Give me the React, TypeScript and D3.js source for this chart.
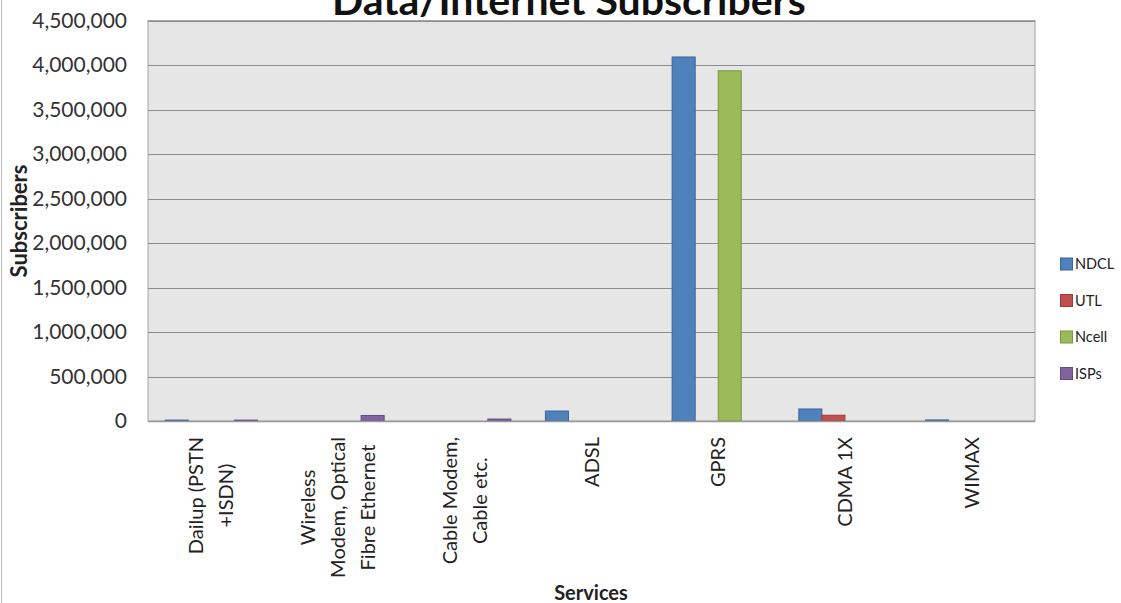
import { useEffect, useRef } from "react";
import * as d3 from "d3";

const categories = [
  ["Dailup (PSTN", "+ISDN)"],
  ["Wireless", "Modem, Optical", "Fibre Ethernet"],
  ["Cable Modem,", "Cable etc."],
  ["ADSL"],
  ["GPRS"],
  ["CDMA 1X"],
  ["WIMAX"],
];
const seriesNames = ["NDCL", "UTL", "Ncell", "ISPs"];
const ndcl = [10000, 0, 0, 112000, 4090000, 135000, 12000];
const utl = [0, 0, 0, 0, 0, 65000, 0];
const ncell = [0, 0, 0, 0, 3935000, 0, 0];
const isps = [10000, 62000, 22000, 0, 0, 0, 0];
const yTicks = [0, 500000, 1000000, 1500000, 2000000, 2500000, 3000000, 3500000, 4000000, 4500000];

const colors = ["#4f81bd", "#c0504d", "#9bbb59", "#8064a2"];
const strokes = ["#3a6597", "#9c3b39", "#7b9645", "#624c80"];

const App = () => {
  const ref = useRef<SVGSVGElement>(null);

  useEffect(() => {
    const svg = d3.select(ref.current);
    svg.selectAll("*").remove();
    const W = 1121, H = 603;
    const left = 148, right = 1035, top = 20.5, bottom = 421;
    const font = "Lato, 'Open Sans', sans-serif";
    const series = [ndcl, utl, ncell, isps];

    svg.append("rect").attr("width", W).attr("height", H).attr("fill", "#fff");
    svg.append("line").attr("x1", 1.5).attr("x2", 1.5).attr("y1", 0).attr("y2", H).attr("stroke", "#bdbdbd");

    const y = d3.scaleLinear().domain([0, 4500000]).range([bottom, top]);
    const x0 = d3.scaleBand<number>().domain(d3.range(categories.length)).range([left, right]);
    const bw = x0.bandwidth();
    const barW = bw / 5.5;
    const x1 = d3.scaleBand<number>().domain(d3.range(seriesNames.length))
      .range([bw * 0.75 / 5.5, bw - bw * 0.75 / 5.5]);

    svg.append("rect")
      .attr("x", left).attr("y", top).attr("width", right - left).attr("height", bottom - top)
      .attr("fill", "#e6e6e6").attr("stroke", "#a6a6a6");

    svg.append("g").selectAll("line").data(yTicks.slice(1)).join("line")
      .attr("x1", left).attr("x2", right)
      .attr("y1", (d) => Math.round(y(d)) + 0.5).attr("y2", (d) => Math.round(y(d)) + 0.5)
      .attr("stroke", "#8c8c8c").attr("stroke-width", 1);

    const fmt = d3.format(",");
    svg.append("g").selectAll("text").data(yTicks).join("text")
      .attr("x", 127).attr("y", (d) => y(d)).attr("dy", "0.35em")
      .attr("text-anchor", "end").attr("font-family", font).attr("font-size", 21)
      .attr("fill", "#333").text((d) => fmt(d));

    series.forEach((vals, si) => {
      svg.append("g").selectAll("rect").data(vals).join("rect")
        .attr("x", (_d, i) => (x0(i) as number) + (x1(si) as number))
        .attr("width", barW)
        .attr("y", (d) => y(d))
        .attr("height", (d) => bottom - y(d))
        .attr("fill", colors[si])
        .attr("stroke", (d) => (d > 0 ? strokes[si] : "none"))
        .attr("stroke-width", 1);
    });

    // bottom axis line
    svg.append("line").attr("x1", left).attr("x2", right).attr("y1", bottom + 0.5).attr("y2", bottom + 0.5)
      .attr("stroke", "#999").attr("stroke-width", 1.5);

    // category labels: rotated block, lines centred, longest line starts at the axis
    const lineH = 30;
    categories.forEach((lines, i) => {
      const cx = (x0(i) as number) + bw / 2;
      const n = lines.length;
      const nodes = lines.map((ln) =>
        svg.append("text")
          .attr("text-anchor", "middle")
          .attr("font-family", font).attr("font-size", 20).attr("fill", "#222")
          .text(ln)
      );
      const maxLen = d3.max(nodes, (t) => (t.node() as SVGTextElement).getComputedTextLength()) || 0;
      const cy = 437 + maxLen / 2;
      nodes.forEach((t, li) => {
        const lx = cx + (li - (n - 1) / 2) * lineH + 7;
        t.attr("transform", `translate(${lx},${cy}) rotate(-90)`);
      });
    });

    svg.append("text").attr("x", 591).attr("y", 600)
      .attr("text-anchor", "middle").attr("font-family", font).attr("font-weight", "bold")
      .attr("font-size", 20).attr("fill", "#222").text("Services");

    svg.append("text").attr("transform", "translate(27,221) rotate(-90)")
      .attr("text-anchor", "middle").attr("font-family", font).attr("font-weight", "bold")
      .attr("font-size", 22).attr("fill", "#222").text("Subscribers");

    svg.append("text").attr("x", 569).attr("y", 15)
      .attr("text-anchor", "middle").attr("font-family", font).attr("font-weight", "bold")
      .attr("font-size", 41).attr("fill", "#111").text("Data/Internet Subscribers");

    const legend = svg.append("g").selectAll("g").data(seriesNames).join("g")
      .attr("transform", (_d, i) => `translate(1060,${264 + i * 36.5})`);
    legend.append("rect").attr("x", 0.5).attr("y", -6).attr("width", 12).attr("height", 12)
      .attr("fill", (_d, i) => colors[i]).attr("stroke", (_d, i) => strokes[i]);
    legend.append("text").attr("x", 15).attr("y", 0).attr("dy", "0.35em")
      .attr("font-family", font).attr("font-size", 14.5).attr("fill", "#222").text((d) => d);
  }, []);

  return (
    <div style={{ position: "fixed", left: 0, top: 0 }}>
      <svg ref={ref} width={1121} height={603} style={{ display: "block" }}></svg>
    </div>
  );
};

export default App;
